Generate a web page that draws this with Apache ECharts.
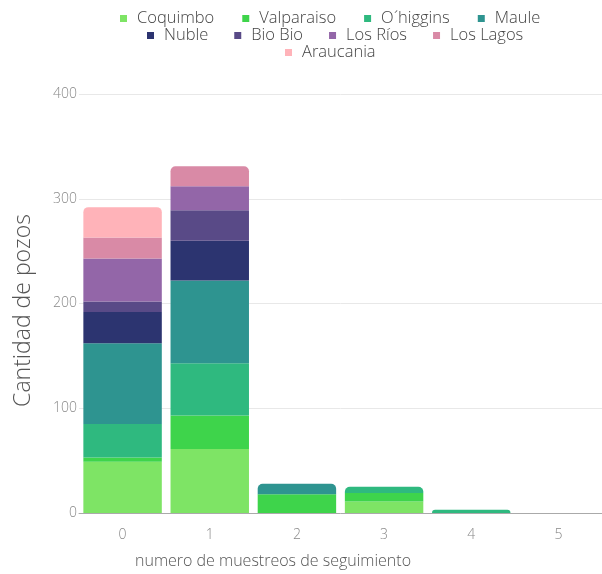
<!DOCTYPE html>
<html>
<head>
<meta charset="utf-8">
<script src="https://cdn.jsdelivr.net/npm/echarts@6/dist/echarts.min.js"></script>
<style>html,body{margin:0;padding:0;background:#fff;}#c{width:602px;height:574px;}</style>
</head>
<body>
<div id="c"></div>
<script>
const categories = ['0', '1', '2', '3', '4', '5'];
const seriesNames = ['Coquimbo', 'Valparaiso', 'O´higgins', 'Maule', 'Nuble', 'Bio Bio', 'Los Ríos', 'Los Lagos', 'Araucania'];
const coquimbo   = [49, 61, 0, 11, 0, 0];
const valparaiso = [4, 32, 18, 8, 0, 0];
const ohiggins   = [32, 50, 0, 6, 3, 0];
const maule      = [77, 79, 10, 0, 0, 0];
const nuble      = [30, 38, 0, 0, 0, 0];
const biobio     = [10, 29, 0, 0, 0, 0];
const losrios    = [41, 23, 0, 0, 0, 0];
const loslagos   = [20, 19, 0, 0, 0, 0];
const araucania  = [29, 0, 0, 0, 0, 0];
const yTicks = [0, 100, 200, 300, 400];

const values = [coquimbo, valparaiso, ohiggins, maule, nuble, biobio, losrios, loslagos, araucania];
const colors = ['#7ee465', '#3ed44b', '#2fb97f', '#2e9490', '#2c3470', '#594a87', '#9366a8', '#d98aa6', '#ffb3b9'];

const topIdx = categories.map((_, ci) => {
  let t = -1;
  values.forEach((arr, si) => { if (arr[ci] > 0) t = si; });
  return t;
});

const series = seriesNames.map((name, si) => ({
  name: name,
  type: 'bar',
  stack: 'total',
  barCategoryGap: '10%',
  itemStyle: { color: colors[si] },
  data: values[si].map((v, ci) => topIdx[ci] === si
    ? { value: v, itemStyle: { borderRadius: [5, 5, 0, 0] } }
    : v)
}));

const FONT = "'Open Sans'";
const legendText = { fontFamily: FONT, fontWeight: 300, fontSize: 16.5, color: '#444', padding: [0, 0, 0, 5] };
function legendRow(top, names, left, gap) {
  return { icon: 'rect', itemWidth: 7, itemHeight: 7, itemGap: gap, textStyle: legendText,
    left: left, top: top, padding: 0, data: names };
}

const chart = echarts.init(document.getElementById('c'), null, { renderer: 'canvas' });
chart.setOption({
  animation: false,
  backgroundColor: '#fff',
  color: colors,
  legend: [
    legendRow(10, seriesNames.slice(0, 4), 120, 28),
    legendRow(27, seriesNames.slice(4, 8), 147, 26),
    legendRow(44, seriesNames.slice(8), 285, 26)
  ],
  grid: { left: 79, top: 94, width: 533, height: 424, containLabel: false },
  xAxis: {
    type: 'category',
    data: categories,
    name: 'numero de muestreos de seguimiento',
    nameLocation: 'middle',
    nameGap: 40,
    nameTextStyle: { fontFamily: FONT, fontWeight: 300, fontSize: 16, color: '#555', padding: [0, 0, 0, -135] },
    axisLine: { lineStyle: { color: '#aaa' } },
    axisTick: { show: false },
    axisLabel: { fontFamily: FONT, fontWeight: 300, fontSize: 14, color: '#888', margin: 15 }
  },
  yAxis: {
    type: 'value',
    min: 0, max: 400, interval: 100,
    name: 'Cantidad de pozos',
    nameLocation: 'middle',
    nameGap: 44,
    nameTextStyle: { fontFamily: FONT, fontWeight: 300, fontSize: 23, color: '#555', padding: [0, 14, 0, 0] },
    axisLine: { show: false },
    axisTick: { show: false },
    axisLabel: { fontFamily: FONT, fontWeight: 300, fontSize: 14, color: '#888', margin: 2,
      formatter: v => yTicks.includes(v) ? String(v) : '' },
    splitLine: { lineStyle: { color: '#e8e8e8' } }
  },
  series: series
});
</script>
</body>
</html>
